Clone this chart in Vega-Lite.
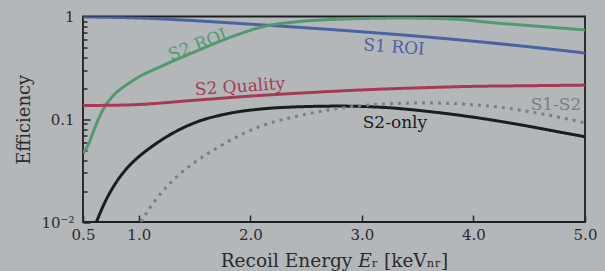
{
  "$schema": "https://vega.github.io/schema/vega-lite/v6.json",
  "width": 502,
  "height": 205.5,
  "autosize": {"type": "none"},
  "padding": {"left": 83, "top": 16.5, "right": 20, "bottom": 49},
  "background": "#b4b7ba",
  "config": {
    "font": "DejaVu Serif",
    "view": {"stroke": "#1e1e1e", "strokeWidth": 1.8},
    "axis": {"domain": false, "grid": false, "ticks": true, "tickColor": "#262626", "tickWidth": 1.5, "labelColor": "#2b2b2b", "labelFont": "DejaVu Serif", "labelFontSize": 15, "titleFont": "DejaVu Serif", "titleFontSize": 18, "titleFontWeight": "normal", "titleColor": "#2b2b2b"}
  },
  "resolve": {"axis": {"y": "independent"}},
  "datasets": {
    "curves": [
      {"series": "S1 ROI", "x": 0.5, "y": 0.99},
      {"series": "S1 ROI", "x": 1.0, "y": 0.967},
      {"series": "S1 ROI", "x": 1.55, "y": 0.904},
      {"series": "S1 ROI", "x": 2.0, "y": 0.842},
      {"series": "S1 ROI", "x": 2.5, "y": 0.776},
      {"series": "S1 ROI", "x": 3.0, "y": 0.71},
      {"series": "S1 ROI", "x": 3.5, "y": 0.643},
      {"series": "S1 ROI", "x": 4.0, "y": 0.575},
      {"series": "S1 ROI", "x": 4.5, "y": 0.507},
      {"series": "S1 ROI", "x": 5.0, "y": 0.441},

      {"series": "S2 ROI", "x": 0.5, "y": 0.0468},
      {"series": "S2 ROI", "x": 0.55, "y": 0.0575},
      {"series": "S2 ROI", "x": 0.6, "y": 0.0794},
      {"series": "S2 ROI", "x": 0.65, "y": 0.107},
      {"series": "S2 ROI", "x": 0.7, "y": 0.135},
      {"series": "S2 ROI", "x": 0.75, "y": 0.16},
      {"series": "S2 ROI", "x": 0.8, "y": 0.182},
      {"series": "S2 ROI", "x": 0.9, "y": 0.22},
      {"series": "S2 ROI", "x": 1.0, "y": 0.258},
      {"series": "S2 ROI", "x": 1.2, "y": 0.327},
      {"series": "S2 ROI", "x": 1.5, "y": 0.452},
      {"series": "S2 ROI", "x": 1.85, "y": 0.645},
      {"series": "S2 ROI", "x": 2.1, "y": 0.79},
      {"series": "S2 ROI", "x": 2.45, "y": 0.895},
      {"series": "S2 ROI", "x": 2.9, "y": 0.948},
      {"series": "S2 ROI", "x": 3.35, "y": 0.966},
      {"series": "S2 ROI", "x": 3.8, "y": 0.946},
      {"series": "S2 ROI", "x": 4.2, "y": 0.865},
      {"series": "S2 ROI", "x": 4.6, "y": 0.8},
      {"series": "S2 ROI", "x": 5.0, "y": 0.74},

      {"series": "S2 Quality", "x": 0.5, "y": 0.136},
      {"series": "S2 Quality", "x": 0.92, "y": 0.138},
      {"series": "S2 Quality", "x": 1.5, "y": 0.153},
      {"series": "S2 Quality", "x": 2.0, "y": 0.168},
      {"series": "S2 Quality", "x": 2.5, "y": 0.181},
      {"series": "S2 Quality", "x": 3.0, "y": 0.193},
      {"series": "S2 Quality", "x": 3.5, "y": 0.202},
      {"series": "S2 Quality", "x": 4.0, "y": 0.209},
      {"series": "S2 Quality", "x": 4.5, "y": 0.212},
      {"series": "S2 Quality", "x": 5.0, "y": 0.215},

      {"series": "S2-only", "x": 0.62, "y": 0.01},
      {"series": "S2-only", "x": 0.7, "y": 0.01585},
      {"series": "S2-only", "x": 0.8, "y": 0.02455},
      {"series": "S2-only", "x": 0.9, "y": 0.0339},
      {"series": "S2-only", "x": 1.0, "y": 0.0432},
      {"series": "S2-only", "x": 1.1, "y": 0.0525},
      {"series": "S2-only", "x": 1.25, "y": 0.0676},
      {"series": "S2-only", "x": 1.5, "y": 0.0923},
      {"series": "S2-only", "x": 1.8, "y": 0.1135},
      {"series": "S2-only", "x": 2.1, "y": 0.1259},
      {"series": "S2-only", "x": 2.4, "y": 0.1318},
      {"series": "S2-only", "x": 2.8, "y": 0.1343},
      {"series": "S2-only", "x": 3.2, "y": 0.1303},
      {"series": "S2-only", "x": 3.6, "y": 0.1189},
      {"series": "S2-only", "x": 4.0, "y": 0.1047},
      {"series": "S2-only", "x": 4.4, "y": 0.0891},
      {"series": "S2-only", "x": 4.8, "y": 0.0741},
      {"series": "S2-only", "x": 5.0, "y": 0.0676},

      {"series": "S1-S2", "x": 1.02, "y": 0.01},
      {"series": "S1-S2", "x": 1.1, "y": 0.0138},
      {"series": "S1-S2", "x": 1.2, "y": 0.0191},
      {"series": "S1-S2", "x": 1.35, "y": 0.0282},
      {"series": "S1-S2", "x": 1.5, "y": 0.038},
      {"series": "S1-S2", "x": 1.7, "y": 0.0525},
      {"series": "S1-S2", "x": 1.9, "y": 0.0692},
      {"series": "S1-S2", "x": 2.1, "y": 0.0861},
      {"series": "S1-S2", "x": 2.4, "y": 0.106},
      {"series": "S1-S2", "x": 2.7, "y": 0.123},
      {"series": "S1-S2", "x": 3.0, "y": 0.136},
      {"series": "S1-S2", "x": 3.3, "y": 0.1422},
      {"series": "S1-S2", "x": 3.6, "y": 0.1439},
      {"series": "S1-S2", "x": 3.9, "y": 0.1406},
      {"series": "S1-S2", "x": 4.2, "y": 0.1324},
      {"series": "S1-S2", "x": 4.6, "y": 0.1135},
      {"series": "S1-S2", "x": 5.0, "y": 0.0923}
    ],
    "labels": [
      {"series": "S2 ROI", "label": "S2 ROI", "x": 1.53, "y": 0.527},
      {"series": "S1 ROI", "label": "S1 ROI", "x": 3.288, "y": 0.499},
      {"series": "S2 Quality", "label": "S2 Quality", "x": 1.907, "y": 0.206},
      {"series": "S2-only", "label": "S2-only", "x": 3.296, "y": 0.092},
      {"series": "S1-S2", "label": "S1-S2", "x": 4.74, "y": 0.138}
    ]
  },
  "layer": [
    {
      "data": {"name": "curves"},
      "mark": {"type": "line", "interpolate": "monotone", "strokeWidth": 3, "clip": true, "strokeCap": "butt"},
      "encoding": {
        "x": {"field": "x", "type": "quantitative",
          "scale": {"domain": [0.5, 5.0], "nice": false, "zero": false},
          "axis": {"values": [0.5, 1, 2, 3, 4, 5], "format": ".1f", "offset": -7, "tickSize": 7, "labelPadding": 5, "labelFlush": false, "labelOverlap": false,
            "title": "Recoil Energy 𝐸ᵣ [keVₙᵣ]", "titleFontSize": 18.5, "titleBaseline": "alphabetic", "titleY": 51.7}},
        "y": {"field": "y", "type": "quantitative",
          "scale": {"type": "log", "domain": [0.01, 1], "nice": false},
          "axis": {"orient": "left", "values": [0.01, 0.1, 1],
            "labelExpr": "datum.value == 1 ? '1' : datum.value == 0.1 ? '0.1' : '10⁻²'",
            "ticks": false, "labelPadding": 9, "labelOverlap": false, "labelFlush": false,
            "title": "Efficiency", "titleX": -58.5, "titleBaseline": "middle", "titleAlign": "center"}},
        "color": {"field": "series", "type": "nominal", "legend": null,
          "scale": {"domain": ["S1 ROI", "S2 ROI", "S2 Quality", "S2-only", "S1-S2"], "range": ["#4b62a2", "#52996f", "#a63a55", "#1c1c1c", "#7b7e81"]}},
        "strokeDash": {"field": "series", "type": "nominal", "legend": null,
          "scale": {"domain": ["S1 ROI", "S2 ROI", "S2 Quality", "S2-only", "S1-S2"], "range": [[1, 0], [1, 0], [1, 0], [1, 0], [3, 5]]}}
      }
    },
    {
      "data": {"name": "labels"},
      "transform": [{"filter": "datum.label == 'S2 ROI'"}],
      "mark": {"type": "text", "fontSize": 17, "angle": -21, "align": "center", "baseline": "middle"},
      "encoding": {
        "x": {"field": "x", "type": "quantitative"},
        "y": {"field": "y", "type": "quantitative",
          "axis": {"orient": "left", "values": [0.02, 0.03, 0.04, 0.05, 0.06, 0.07, 0.08, 0.09, 0.2, 0.3, 0.4, 0.5, 0.6, 0.7, 0.8, 0.9],
            "offset": -4, "tickSize": 4, "labels": false, "title": null}},
        "text": {"field": "label"},
        "color": {"field": "series", "type": "nominal", "legend": null}
      }
    },
    {
      "data": {"name": "labels"},
      "transform": [{"filter": "datum.label == 'S1 ROI'"}],
      "mark": {"type": "text", "fontSize": 17, "angle": 4, "align": "center", "baseline": "middle"},
      "encoding": {
        "x": {"field": "x", "type": "quantitative"},
        "y": {"field": "y", "type": "quantitative",
          "axis": {"orient": "left", "values": [0.01, 0.1, 1],
            "offset": -7, "tickSize": 7, "labels": false, "title": null}},
        "text": {"field": "label"},
        "color": {"field": "series", "type": "nominal", "legend": null}
      }
    },
    {
      "data": {"name": "labels"},
      "transform": [{"filter": "datum.label == 'S2 Quality'"}],
      "mark": {"type": "text", "fontSize": 17, "angle": -4, "align": "center", "baseline": "middle"},
      "encoding": {
        "x": {"field": "x", "type": "quantitative"},
        "y": {"field": "y", "type": "quantitative", "axis": null},
        "text": {"field": "label"},
        "color": {"field": "series", "type": "nominal", "legend": null}
      }
    },
    {
      "data": {"name": "labels"},
      "transform": [{"filter": "datum.label == 'S2-only' || datum.label == 'S1-S2'"}],
      "mark": {"type": "text", "fontSize": 17, "align": "center", "baseline": "middle"},
      "encoding": {
        "x": {"field": "x", "type": "quantitative"},
        "y": {"field": "y", "type": "quantitative", "axis": null},
        "text": {"field": "label"},
        "color": {"field": "series", "type": "nominal", "legend": null}
      }
    }
  ]
}
